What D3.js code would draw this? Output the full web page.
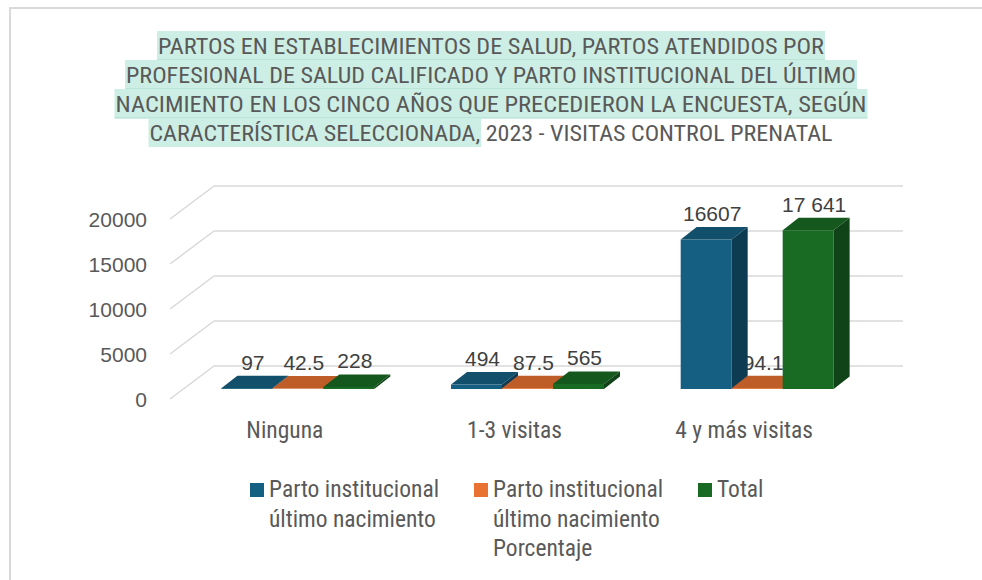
<!DOCTYPE html>
<html><head><meta charset="utf-8">
<script src="https://cdn.jsdelivr.net/npm/d3@7"></script>
<style>
html,body{margin:0;padding:0;background:#fff;}
svg{display:block;}
</style></head>
<body>
<svg id="chart" width="982" height="580"></svg>
<script>
// ---- data ----
const categories = ["Ninguna", "1-3 visitas", "4 y más visitas"];
const seriesNames = ["Parto institucional último nacimiento", "Parto institucional último nacimiento Porcentaje", "Total"];
const legendLines = [["Parto institucional", "último nacimiento"], ["Parto institucional", "último nacimiento", "Porcentaje"], ["Total"]];
const partoInstitucional = [97, 494, 16607];
const partoPorcentaje = [42.5, 87.5, 94.1];
const total = [228, 565, 17641];
const valueLabels = [["97", "494", "16607"], ["42.5", "87.5", "94.1"], ["228", "565", "17 641"]];
const yTicks = [0, 5000, 10000, 15000, 20000];
const seriesColors = ["#156082", "#E97132", "#196B24"];
const titleLines = [
  "PARTOS EN ESTABLECIMIENTOS DE SALUD, PARTOS ATENDIDOS POR",
  "PROFESIONAL DE SALUD CALIFICADO Y PARTO INSTITUCIONAL DEL ÚLTIMO",
  "NACIMIENTO EN LOS CINCO AÑOS QUE PRECEDIERON LA ENCUESTA, SEGÚN",
  "CARACTERÍSTICA SELECCIONADA,|| 2023 - VISITAS CONTROL PRENATAL"
];

const seriesValues = [partoInstitucional, partoPorcentaje, total];

const svg = d3.select("#chart");
const narrow = "'Liberation Sans Narrow','Arial Narrow','Roboto Condensed',Roboto,sans-serif";
const arial = "'Liberation Sans',Arial,sans-serif";
const textGray = "#595959";

// outer frame
svg.append("path").attr("d", "M10,580 L10,8 L982,8").attr("fill", "none")
  .attr("stroke", "#d9d9d9").attr("stroke-width", 2);

// ---- title ----
const titleG = svg.append("g");
const titleWidths = [666, 730, 751, 683];
const lineH = 29;
titleLines.forEach((ln, i) => {
  const parts = ln.split("||");
  const base = 54 + i * lineH;
  const t = titleG.append("text").attr("x", 491).attr("y", base).attr("text-anchor", "middle")
    .attr("font-family", narrow).attr("font-size", 22).attr("fill", textGray)
    .attr("textLength", titleWidths[i]).attr("lengthAdjust", "spacingAndGlyphs");
  parts.forEach((p, j) => t.append("tspan").attr("class", "p" + j).text(p));
  // highlight
  const first = t.select("tspan.p0").node();
  const n = first.getNumberOfChars();
  const s = first.getStartPositionOfChar(0);
  const e = first.getEndPositionOfChar(n - 1);
  titleG.insert("rect", "text").attr("x", s.x - 1).attr("y", base - 23).attr("width", e.x - s.x + 2)
    .attr("height", lineH).attr("fill", "#cdeee4");
  if (i < 3) titleG.insert("line", "text").attr("x1", s.x - 1).attr("x2", e.x + 1)
    .attr("y1", base + 6).attr("y2", base + 6).attr("stroke", "#a9dccb").attr("stroke-width", 1);
});

// ---- scales ----
const frontX0 = 170, frontX1 = 859, depthX = 44, depthY = 33;
const y = d3.scaleLinear().domain([0, 20000]).range([399, 219]);
const x0 = d3.scaleBand().domain(categories).range([frontX0, frontX1]).paddingInner(0.334).paddingOuter(0.167);
const x1 = d3.scaleBand().domain(d3.range(3)).range([0, x0.bandwidth()]);
const barOffX = 13, barOffY = 10, barDX = 16, barDY = 12.5;
const ys = d3.scaleLinear().domain([0, 20000]).range([399 - barOffY, 219 - barOffY]);

// ---- gridlines (back wall + left side) ----
const grid = svg.append("g").attr("stroke", "#d9d9d9").attr("stroke-width", 1.5).attr("fill", "none");
yTicks.forEach(v => {
  grid.append("line").attr("x1", frontX0).attr("y1", y(v)).attr("x2", frontX0 + depthX).attr("y2", y(v) - depthY);
  grid.append("line").attr("x1", frontX0 + depthX).attr("y1", y(v) - depthY).attr("x2", frontX1 + depthX).attr("y2", y(v) - depthY);
});

// y axis labels
svg.append("g").selectAll("text").data(yTicks).join("text")
  .attr("x", 147).attr("y", d => y(d)).attr("dy", "0.36em").attr("text-anchor", "end")
  .attr("font-family", arial).attr("font-size", 21).attr("fill", textGray).text(d => d);

// category labels
svg.append("g").selectAll("text").data(categories).join("text")
  .attr("x", d => x0(d) + x0.bandwidth() / 2).attr("y", 438).attr("text-anchor", "middle")
  .attr("font-family", narrow).attr("font-size", 23.5).attr("fill", textGray).text(d => d);

// ---- data labels ----
const labelG = svg.append("g");
categories.forEach((c, ci) => {
  seriesValues.forEach((vals, si) => {
    const bx = x0(c) + barOffX + x1(si);
    const top = ys(vals[ci]);
    labelG.append("text").attr("x", bx + x1.bandwidth() / 2 + 6).attr("y", top - barDY - 6)
      .attr("text-anchor", "middle").attr("font-family", arial).attr("font-size", 21)
      .attr("fill", "#404040").text(valueLabels[si][ci]);
  });
});

// ---- 3D bars ----
const barG = svg.append("g");
categories.forEach((c, ci) => {
  seriesValues.forEach((vals, si) => {
    const col = d3.color(seriesColors[si]);
    const bx = x0(c) + barOffX + x1(si);
    const w = x1.bandwidth();
    const base = ys(0), top = ys(vals[ci]);
    const g = barG.append("g");
    g.append("rect").attr("x", bx).attr("y", top).attr("width", w).attr("height", base - top).attr("fill", col.formatHex());
    g.append("path").attr("d", `M${bx},${top}L${bx + barDX},${top - barDY}L${bx + w + barDX},${top - barDY}L${bx + w},${top}Z`)
      .attr("fill", col.darker(0.55).formatHex());
    g.append("path").attr("d", `M${bx + w},${top}L${bx + w + barDX},${top - barDY}L${bx + w + barDX},${base - barDY}L${bx + w},${base}Z`)
      .attr("fill", col.darker(1.3).formatHex());
  });
});

// ---- legend ----
const legendX = [250, 474, 698];
const lg = svg.append("g");
seriesNames.forEach((s, i) => {
  lg.append("rect").attr("x", legendX[i]).attr("y", 483).attr("width", 14).attr("height", 14).attr("fill", seriesColors[i]);
  const t = lg.append("text").attr("font-family", narrow).attr("font-size", 23.5).attr("fill", textGray);
  legendLines[i].forEach((l, k) => t.append("tspan").attr("x", legendX[i] + 19).attr("y", 497 + k * 29.5).text(l));
});
</script>
</body></html>
